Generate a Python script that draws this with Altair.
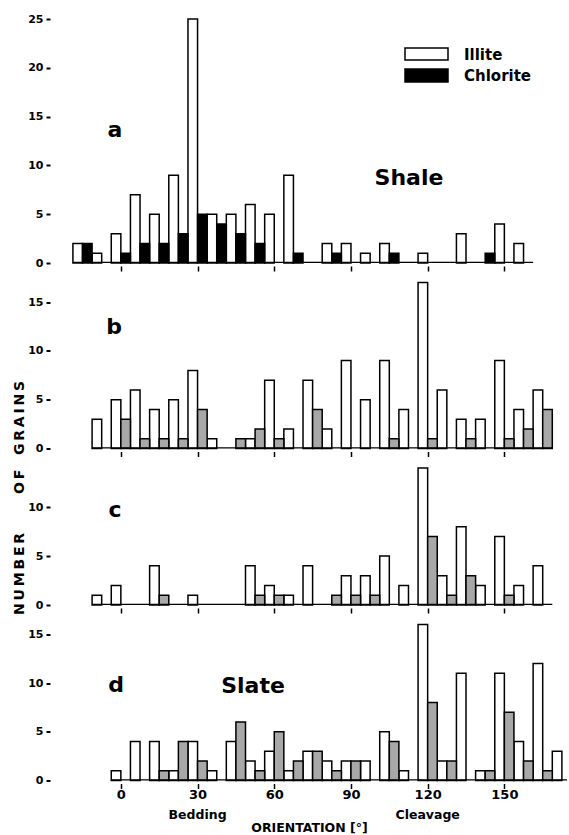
import altair as alt
import pandas as pd

# Bin centres (degrees); each bin = illite bar (left half) + chlorite bar (right half)
bin_centers = [-15, -7.5, 0, 7.5, 15, 22.5, 30, 37.5, 45, 52.5, 60, 67.5, 75,
               82.5, 90, 97.5, 105, 112.5, 120, 127.5, 135, 142.5, 150, 157.5, 165, 172.5]

illite_a   = [2, 1, 3, 7, 5, 9, 25, 5, 5, 6, 5, 9, 0, 2, 2, 1, 2, 0, 1, 0, 3, 0, 4, 2, 0, 0]
chlorite_a = [2, 0, 1, 2, 2, 3, 5, 4, 3, 2, 0, 1, 0, 1, 0, 0, 1, 0, 0, 0, 0, 1, 0, 0, 0, 0]

illite_b   = [0, 3, 5, 6, 4, 5, 8, 1, 0, 1, 7, 2, 7, 2, 9, 5, 9, 4, 17, 6, 3, 3, 9, 4, 6, 0]
chlorite_b = [0, 0, 3, 1, 1, 1, 4, 0, 1, 2, 1, 0, 4, 0, 0, 0, 1, 0, 1, 0, 1, 0, 1, 2, 4, 0]

illite_c   = [0, 1, 2, 0, 4, 0, 1, 0, 0, 4, 2, 1, 4, 0, 3, 3, 5, 2, 14, 3, 8, 2, 7, 2, 4, 0]
chlorite_c = [0, 0, 0, 0, 1, 0, 0, 0, 0, 1, 1, 0, 0, 1, 1, 1, 0, 0, 7, 1, 3, 0, 1, 0, 0, 0]

illite_d   = [0, 0, 1, 4, 4, 1, 4, 1, 4, 2, 3, 1, 3, 2, 2, 2, 5, 1, 16, 2, 11, 1, 11, 4, 12, 3]
chlorite_d = [0, 0, 0, 0, 1, 4, 2, 0, 6, 1, 5, 2, 3, 1, 2, 0, 4, 0, 8, 2, 0, 1, 7, 2, 1, 0]

y_max = [25, 17, 14, 16]
panel_letters = ["a", "b", "c", "d"]
rock_names = ["Shale", "Slate"]
legend_labels = ["Illite", "Chlorite"]
tick_values = [0, 30, 60, 90, 120, 150]
ref_angles = [30, 120]
ref_labels = ["Bedding", "Cleavage"]
x_title = "ORIENTATION [°]"
y_title = "N\u2009U\u2009M\u2009B\u2009E\u2009R" + "\u00a0" * 8 + "O\u2009F" + "\u00a0" * 3 + "G\u2009R\u2009A\u2009I\u2009N\u2009S"

STEP = bin_centers[1] - bin_centers[0]
HALF = STEP / 2
X_DOMAIN = [-19.5, 174.5]
WIDTH = 496
PX_PER_UNIT = 9.76
FONT = "DejaVu Sans"
BAR_STROKE = 1.5


def frame(illite, chlorite):
    rows = []
    for c, i, ch in zip(bin_centers, illite, chlorite):
        rows.append(dict(mineral="Illite", x0=c - HALF, x1=c, count=i, center=c))
        rows.append(dict(mineral="Chlorite", x0=c, x1=c + HALF, count=ch, center=c))
    return pd.DataFrame(rows)


def baseline(df):
    nz = df[df["count"] > 0]
    return pd.DataFrame({"start": [nz["center"].min() - HALF],
                         "end": [nz["center"].max() + HALF]})


def txt(label, x, y, size, align="center", baseline_="alphabetic", angle=None):
    kw = dict(fontSize=size, fontWeight="bold", font=FONT, align=align,
              baseline=baseline_, color="black")
    if angle is not None:
        kw["angle"] = angle
    return alt.Chart(pd.DataFrame({"t": [label]})).mark_text(**kw).encode(
        x=alt.value(x), y=alt.value(y), text="t:N")


def x_axis(bottom):
    if bottom:
        return alt.Axis(values=tick_values, offset=3, tickSize=5, tickWidth=1.5,
                        domain=False, grid=False, labelFontSize=13, labelPadding=0,
                        title=x_title, titleFont=FONT, titleFontSize=12.5,
                        titleFontWeight="bold", titleX=238, titleY=44,
                        titleBaseline="middle", titleAlign="center")
    return alt.Axis(values=tick_values, offset=3, tickSize=5, tickWidth=1.5,
                    domain=False, grid=False, labels=False, title=None)


def x_scale():
    return alt.Scale(domain=X_DOMAIN, nice=False, zero=False)


def panel(illite, chlorite, ymax, chl_fill, letter, letter_xy, extras, bottom=False):
    df = frame(illite, chlorite)
    height = round(ymax * PX_PER_UNIT)
    xaxis = x_axis(bottom)
    ys = alt.Scale(domain=[0, ymax], nice=False, zero=True)
    yaxis = alt.Axis(values=list(range(0, ymax + 1, 5)), offset=21, tickSize=4,
                     tickWidth=2, labelPadding=3, domain=False, grid=False,
                     title=None, labelFontSize=11)
    base = alt.Chart(df)
    ill = base.transform_filter("datum.mineral == 'Illite' && datum.count > 0").mark_rect(
        fill="white", stroke="black", strokeWidth=BAR_STROKE).encode(
        x=alt.X("x0:Q", scale=x_scale(), axis=xaxis), x2="x1:Q",
        y=alt.Y("count:Q", scale=ys, axis=yaxis), y2=alt.datum(0))
    chl = base.transform_filter("datum.mineral == 'Chlorite' && datum.count > 0").mark_rect(
        fill=chl_fill, stroke="black", strokeWidth=BAR_STROKE).encode(
        x=alt.X("x0:Q", scale=x_scale(), axis=xaxis), x2="x1:Q",
        y=alt.Y("count:Q", scale=ys, axis=yaxis), y2=alt.datum(0))
    rule = alt.Chart(baseline(df)).mark_rule(strokeWidth=2.5, color="black", clip=True).encode(
        x=alt.X("start:Q", scale=x_scale(), axis=xaxis), x2="end:Q",
        y=alt.datum(0))
    layers = [ill, chl, rule, txt(letter, letter_xy[0], letter_xy[1], 22)] + extras
    return alt.layer(*layers).properties(width=WIDTH, height=height)


# Panel a extras: legend + rock name
legend_a = [
    alt.Chart(pd.DataFrame({"t": [legend_labels[0]]})).mark_rect(
        fill="white", stroke="black", strokeWidth=BAR_STROKE).encode(
        x=alt.value(334), x2=alt.value(377), y=alt.value(29), y2=alt.value(41)),
    alt.Chart(pd.DataFrame({"t": [legend_labels[1]]})).mark_rect(
        fill="black", stroke="black", strokeWidth=BAR_STROKE).encode(
        x=alt.value(334), x2=alt.value(377), y=alt.value(50), y2=alt.value(63)),
    txt(legend_labels[0], 393, 36, 15, align="left", baseline_="middle"),
    txt(legend_labels[1], 393, 57, 15, align="left", baseline_="middle"),
    txt(rock_names[0], 338, 166, 22),
]

extras_c = [txt(y_title, -51, 30, 14, baseline_="middle", angle=270)]

ref_df = pd.DataFrame({"angle": ref_angles, "label": ref_labels})
extras_d = [
    txt(rock_names[1], 182, 68, 22),
    alt.Chart(ref_df).mark_text(fontSize=12.5, fontWeight="bold", font=FONT,
                                baseline="middle", color="black").encode(
        x=alt.X("angle:Q", scale=x_scale(), axis=x_axis(True)),
        y=alt.value(190), text="label:N"),
]

CHL_GREY = "#a8a8a8"
pa = panel(illite_a, chlorite_a, y_max[0], "black", panel_letters[0], (44, 118), legend_a)
pb = panel(illite_b, chlorite_b, y_max[1], CHL_GREY, panel_letters[1], (43, 51), [])
pc = panel(illite_c, chlorite_c, y_max[2], CHL_GREY, panel_letters[2], (44, 49), extras_c)
pdd = panel(illite_d, chlorite_d, y_max[3], CHL_GREY, panel_letters[3], (45, 67), extras_d, bottom=True)

chart = alt.vconcat(pa, pb, pc, pdd, spacing=19.5, bounds="flush").resolve_scale(
    y="independent").properties(
    padding={"left": 12, "top": 13, "right": 0, "bottom": 0}
).configure_view(stroke=None).configure_axis(
    labelFont=FONT, labelFontWeight="bold", labelColor="black",
    tickColor="black", titleColor="black")

chart.save("out.html", embed_options={"renderer": "svg", "actions": False})
